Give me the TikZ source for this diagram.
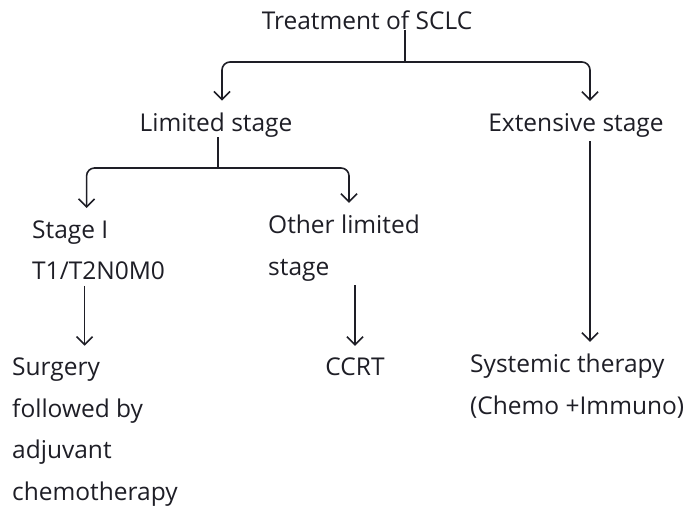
\documentclass[tikz,border=0pt]{standalone}
\usepackage{fontspec}
\setmainfont{Open Sans}
\usepackage{xcolor}
\definecolor{inkgray}{RGB}{30,30,38}
\usetikzlibrary{arrows.meta,positioning,calc}

\begin{document}
\begin{tikzpicture}[
  x=1pt, y=-1pt,
  lbl/.style={inner sep=0pt, align=left, text=inkgray,
              font=\fontsize{24.5}{41.5}\selectfont},
  stem/.style={line width=1.6pt, color=inkgray},
  darr/.style={-{Straight Barb[length=8pt,width=16pt]}, line width=1.6pt,
               color=inkgray, rounded corners=8pt, shorten >=12pt}
]
\useasboundingbox (0,0) rectangle (689,519);

\node[lbl] (sclc) at (367,20) {Treatment of SCLC};
\node[lbl] (limited) at (216,125) {Limited stage};
\node[lbl] (extensive) at (576,125) {Extensive stage};

\node[lbl, anchor=west] (stage1) at (32,250) {Stage I\\T1/T2N0M0};
\node[lbl, anchor=west] (other) at (268,248) {Other limited\\stage};

\node[lbl, anchor=west] (surgery) at (12,432) {Surgery\\followed by\\adjuvant\\chemotherapy};
\node[lbl] (ccrt) at (355,367) {CCRT};
\node[lbl, anchor=west] (systemic) at (470,386) {Systemic therapy\\(Chemo +Immuno)};

%% branch points
\coordinate (split1) at (405,62);
\coordinate (split2) at (218,168);

%% arrows
\draw[stem] (sclc.south -| split1) -- (split1);
\draw[darr] (split1) -| ([xshift=6pt]limited.north);
\draw[darr] (split1) -| ([xshift=14pt]extensive.north);

\draw[stem] (limited.south -| split2) -- (split2);
\draw[darr] (split2) -| ([xshift=-12pt]stage1.north);
\draw[darr] (split2) -| ([xshift=5pt]other.north);

\draw[darr] ([xshift=-14pt,yshift=-6pt]stage1.south) coordinate (s1) -- (s1 |- surgery.north);
\draw[darr] ([yshift=-4pt]other.south -| ccrt) -- (ccrt.north);
\draw[darr] ([xshift=14pt,yshift=-4pt]extensive.south) coordinate (e1) -- (e1 |- systemic.north);

\end{tikzpicture}
\end{document}
